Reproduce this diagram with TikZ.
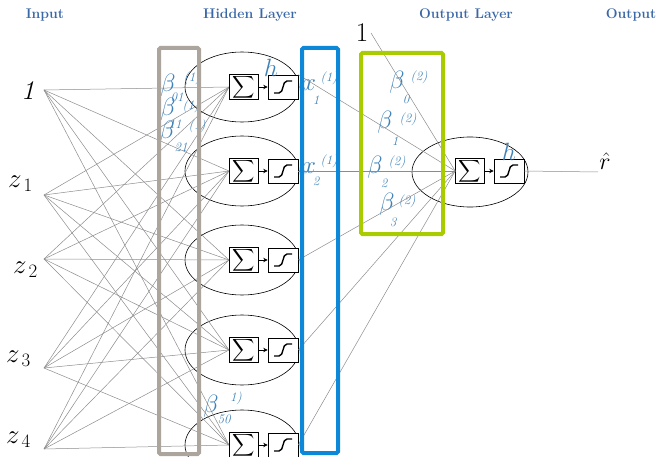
\RequirePackage{fix-cm}
\documentclass[tikz,border=0pt]{standalone}
\usetikzlibrary{shapes.geometric,arrows.meta}
\definecolor{titleblue}{HTML}{3A67A6}
\definecolor{wblue}{HTML}{3F82B8}
\definecolor{boxgray}{HTML}{ABA59D}
\definecolor{boxblue}{HTML}{0D87D8}
\definecolor{boxgreen}{HTML}{A8CC00}
\definecolor{edgegray}{HTML}{8C8C8C}
\newcommand\bigsum{\scalebox{1.55}{$\displaystyle\sum$}}
\begin{document}
\begin{tikzpicture}[x=1pt,y=-1pt,
  title/.style={text=titleblue,font=\bfseries\fontsize{14}{16}\selectfont,inner sep=0},
  inlab/.style={font=\fontsize{27}{30}\selectfont,inner sep=0,anchor=west},
  wbeta/.style={text=wblue,font=\fontsize{25}{28}\selectfont,inner sep=0},
  wsup/.style={text=wblue,font=\itshape\fontsize{13}{14}\selectfont,inner sep=0},
  wsub/.style={text=wblue,font=\itshape\fontsize{13}{14}\selectfont,inner sep=0},
  sumbox/.style={draw,fill=white,line width=0.6pt,minimum width=29pt,minimum height=24pt,inner sep=0,font=\fontsize{12}{12}\selectfont},
  sigbox/.style={draw,fill=white,line width=0.6pt,minimum width=30pt,minimum height=24pt,inner sep=0},
  unit/.style={draw,ellipse,line width=0.6pt,minimum width=114pt,minimum height=70pt,inner sep=0},
  edge/.style={draw=edgegray,line width=0.5pt},
  link/.style={line width=0.6pt,-{Stealth[length=4.5pt,width=4.5pt]}},
  frame/.style={line width=4pt,rounded corners=1.5pt},
  sigcurve/.pic={\draw[line width=1.4pt] (-9,6) -- (-4,6) .. controls (1,6) and (-1,-6) .. (4,-6) -- (9,-6);}
]
\useasboundingbox (0,0) rectangle (658,457);
\clip (0,0) rectangle (658,457);

% column titles
\node[title] (tin)  at (45,15)  {Input};
\node[title] (thid) at (250,15) {Hidden Layer};
\node[title] (tout) at (466,15) {Output Layer};
\node[title] (tres) at (631,15) {Output};

% inputs
\node[inlab] (l0) at (21,91) {\itshape 1};
\node[inlab] (l1) at (8,184) {$z_{\,1}$};
\node[inlab] (l2) at (13,270) {$z_{\,2}$};
\node[inlab] (l3) at (6,359) {$z_{\,3}$};
\node[inlab] (l4) at (6,440) {$z_{\,4}$};
\coordinate (i0) at (44,90);
\coordinate (i1) at (44,195);
\coordinate (i2) at (44,259);
\coordinate (i3) at (44,368);
\coordinate (i4) at (44,449);

% hidden units
\foreach \k/\y in {1/87,2/171,3/260,4/350,5/445}{
  \node[unit] (u\k) at (242,\y) {};
}
\foreach \k/\y in {1/87,2/171,3/260,4/350,5/445}{
  \foreach \i in {0,...,4}{
    \coordinate (a\k) at (229,\y);
    \draw[edge] (i\i) -- (a\k);
  }
}

% output unit
\node[unit,minimum width=116pt] (uo) at (470,172) {};
\coordinate (one) at (371,33);
\node[font=\fontsize{27}{30}\selectfont,inner sep=0] (lone) at (362,33) {1};

% weight labels, hidden layer
\node[wbeta] (b01) at (168,85) {$\beta$};
\node[wsup]  (b01s) at (192,78) {(1)};
\node[wsub]  (b01i) at (177,97) {01};
\node[wbeta] (b11) at (168,109) {$\beta$};
\node[wsup]  (b11s) at (191,106) {(1)};
\node[wsub]  (b11i) at (175,124) {11};
\node[wbeta] (b21) at (167,132) {$\beta$};
\node[wsup]  (b21s) at (197,126) {(1)};
\node[wsub]  (b21i) at (181,147) {21};
\node[wbeta] (b50) at (211,406) {$\beta$};
\node[wsup]  (b50s) at (236,398) {1)};
\node[wsub]  (b50i) at (224,419) {50};

% hidden outputs
\node[wbeta] (x1) at (309,85) {$x$};
\node[wsup]  (x1s) at (329,78) {(1)};
\node[wsub]  (x1i) at (316,100) {1};
\node[wbeta] (x2) at (309,168) {$x$};
\node[wsup]  (x2s) at (329,161) {(1)};
\node[wsub]  (x2i) at (316,181) {2};

% weight labels, output layer
\node[wbeta] (c0) at (397,82) {$\beta$};
\node[wsup]  (c0s) at (419,77) {(2)};
\node[wsub]  (c0i) at (406,99) {0};
\node[wbeta] (c1) at (385,122) {$\beta$};
\node[wsup]  (c1s) at (408,119) {(2)};
\node[wsub]  (c1i) at (395,141) {1};
\node[wbeta] (c2) at (375,167) {$\beta$};
\node[wsup]  (c2s) at (397,162) {(2)};
\node[wsub]  (c2i) at (384,183) {2};
\node[wbeta] (c3) at (387,204) {$\beta$};
\node[wsup]  (c3s) at (407,201) {(2)};
\node[wsub]  (c3i) at (393,222) {3};

% summation and activation boxes
\foreach \k/\y in {1/87,2/171,3/260,4/350,5/445}{
  \node[sumbox] (s\k) at (243.5,\y) {\bigsum};
  \node[sigbox] (g\k) at (283,\y) {};
  \pic at (g\k) {sigcurve};
  \draw[link] (s\k) -- (g\k);
}
\node[sumbox] (so) at (470,171) {\bigsum};
\node[sigbox] (go) at (509,171) {};
\pic at (go) {sigcurve};
\draw[link] (so) -- (go);

% connections into the output unit
\draw[edge] (one) -- (so.west);
\draw[edge] (g1.north east) -- (so.west);
\foreach \k in {2,...,5}{
  \draw[edge] (g\k.east) -- (so.west);
}
\coordinate (rend) at (598,172);
\draw[edge] (go.east) -- (rend);
\node[font=\fontsize{24}{26}\selectfont,inner sep=0] (rhat) at (605,161) {$\hat{r}$};

% activation labels
\node[text=wblue,font=\fontsize{25}{27}\selectfont,inner sep=0] (h1) at (271,68) {$h$};
\node[text=wblue,font=\fontsize{25}{27}\selectfont,inner sep=0] (ho) at (509,152) {$h$};

% grouping frames
\draw[frame,boxgray]  (159,48) rectangle (199,454);
\draw[frame,boxblue]  (302,48) rectangle (338,453);
\draw[frame,boxgreen] (361,53) rectangle (443,234);
\end{tikzpicture}
\end{document}
